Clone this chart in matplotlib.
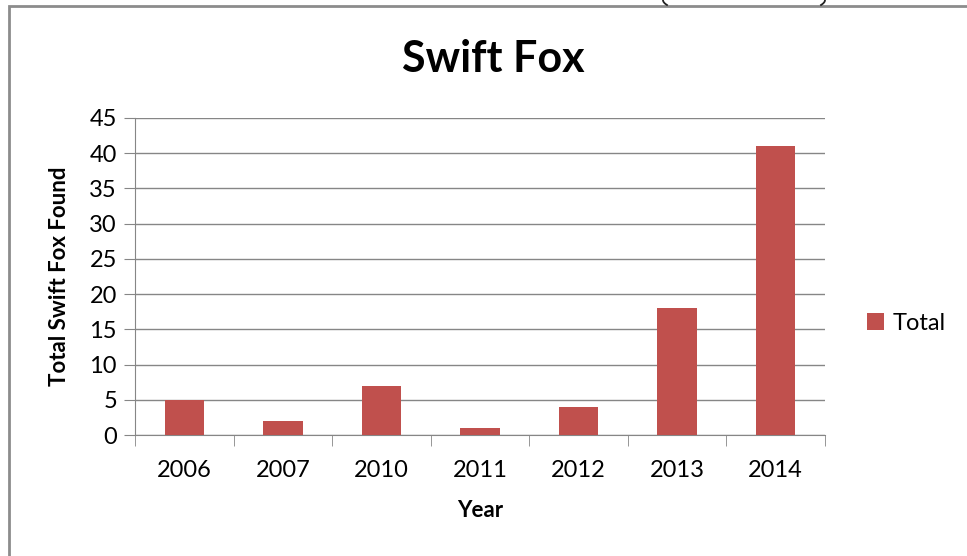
import matplotlib.pyplot as plt
from matplotlib.patches import Rectangle
import numpy as np

plt.rcParams['font.family'] = ['Lato', 'DejaVu Sans']

years = ['2006', '2007', '2010', '2011', '2012', '2013', '2014']
totals = [5, 2, 7, 1, 4, 18, 41]
y_ticks = [0, 5, 10, 15, 20, 25, 30, 35, 40, 45]

bar_color = '#C0504D'
grid_color = '#868686'

fig = plt.figure(figsize=(9.67, 5.56), dpi=100)
# chart border (gray frame, right/bottom cut off in the screenshot)
fig.patches.append(Rectangle((9 / 967, -0.1), 1.2, 1 - 6 / 556 + 0.1, transform=fig.transFigure,
                             fill=False, edgecolor='#8c8c8c', linewidth=2))
# bottoms of the clipped parentheses at the very top edge
t = np.linspace(0, 1, 20)
fig.add_artist(plt.Line2D((663 + 4 * t ** 2) / 967, 1 - (5 * t) / 556, color='#222222', lw=1.3))
fig.add_artist(plt.Line2D((825 - 4 * t ** 2) / 967, 1 - (5 * t) / 556, color='#222222', lw=1.3))

ax = fig.add_axes([135 / 967, 1 - 435 / 556, 690 / 967, 317 / 556])
x = np.arange(len(years))
bars = ax.bar(x, totals, width=0.4, color=bar_color, label='Total', zorder=3)

ax.set_xlim(-0.5, len(years) - 0.5)
ax.set_ylim(0, 45)
ax.set_yticks(y_ticks)
ax.yaxis.grid(True, color=grid_color, linewidth=1, zorder=0)
ax.set_axisbelow(True)

ax.set_xticks(x)
ax.set_xticklabels(years, fontsize=17)
ax.set_xticks(np.arange(len(years) + 1) - 0.5, minor=True)
ax.tick_params(axis='x', which='major', length=0, pad=18)
ax.tick_params(axis='x', which='minor', length=8, color=grid_color, direction='out')
ax.tick_params(axis='y', length=8, color=grid_color, labelsize=17, pad=5)

for side in ['top', 'right']:
    ax.spines[side].set_visible(False)
for side in ['left', 'bottom']:
    ax.spines[side].set_color(grid_color)

ax.set_xlabel('Year', fontsize=16, fontweight='bold', labelpad=14)
ax.set_ylabel('Total Swift Fox Found', fontsize=16, fontweight='bold', labelpad=14)
fig.text(493 / 967, 1 - 59 / 556, 'Swift Fox', fontsize=31, fontweight='bold', ha='center', va='center')

ax.legend(loc='center left', bbox_to_anchor=(1.061, 0.353), frameon=False, fontsize=17,
          handlelength=0.7, handleheight=0.7, handletextpad=0.4, borderpad=0, borderaxespad=0)

plt.savefig('out.png', dpi=100)
